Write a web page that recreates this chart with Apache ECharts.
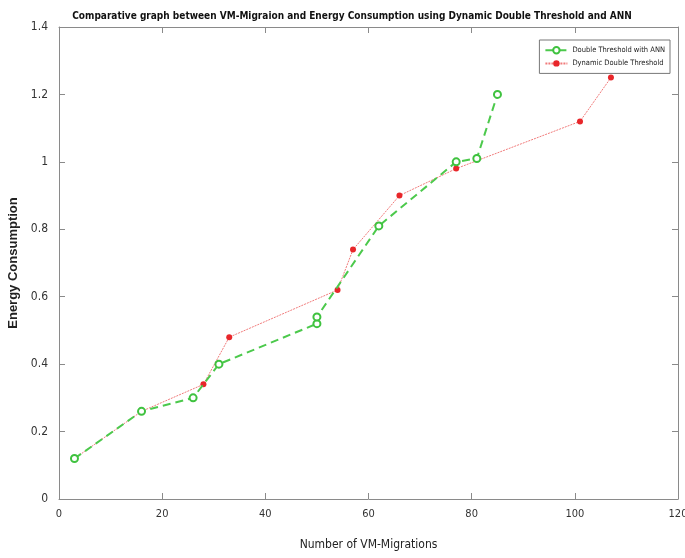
<!DOCTYPE html>
<html>
<head>
<meta charset="utf-8">
<script src="https://cdn.jsdelivr.net/npm/echarts@6/dist/echarts.min.js"></script>
<style>
  html, body { margin: 0; padding: 0; background: #fff; }
  #chart { width: 685px; height: 558px; }
</style>
</head>
<body>
<div id="chart"></div>
<script>
// data
var annX = [3, 16, 26, 31, 50, 50, 62, 77, 81, 85];
var annY = [0.12, 0.26, 0.30, 0.40, 0.52, 0.54, 0.81, 1.00, 1.01, 1.20];
var ddtX = [3, 16, 28, 33, 54, 57, 66, 77, 101, 107];
var ddtY = [0.12, 0.26, 0.34, 0.48, 0.62, 0.74, 0.90, 0.98, 1.12, 1.25];
var seriesNames = ['Double Threshold with ANN', 'Dynamic Double Threshold'];

function pairs(xs, ys) {
  return xs.map(function (x, i) { return [x, ys[i]]; });
}

var font = '"DejaVu Sans Condensed", "Liberation Sans", Arial, sans-serif';
var axisGray = '#8a8a8a';

var chart = echarts.init(document.getElementById('chart'));
chart.setOption({
  animation: false,
  title: {
    text: 'Comparative graph between VM-Migraion and Energy Consumption using Dynamic Double Threshold and ANN',
    left: 347,
    textAlign: 'center',
    top: 6,
    textStyle: { fontFamily: font, fontSize: 10, fontWeight: 'bold', color: '#111' }
  },
  legend: {
    data: seriesNames,
    orient: 'vertical',
    right: 15,
    top: 40,
    itemWidth: 22,
    itemHeight: 8,
    itemGap: 5,
    padding: [6, 5],
    borderColor: '#777',
    borderWidth: 1,
    textStyle: { fontFamily: font, fontSize: 7.5, color: '#222' }
  },
  grid: { left: 59, right: 7, top: 27, bottom: 59, outerBoundsMode: 'none' },
  xAxis: [{
    type: 'value', min: 0, max: 120, interval: 20,
    name: 'Number of VM-Migrations',
    nameLocation: 'middle', nameGap: 40,
    nameTextStyle: { fontFamily: font, fontSize: 12, color: '#222' },
    axisLine: { onZero: false, lineStyle: { color: axisGray } },
    axisTick: { inside: true, length: 6, lineStyle: { color: axisGray } },
    axisLabel: { fontFamily: font, fontSize: 11, color: '#333', margin: 10 },
    splitLine: { show: false }
  }, {
    type: 'value', min: 0, max: 120, interval: 20, position: 'top',
    axisLine: { show: true, onZero: false, lineStyle: { color: axisGray } },
    axisTick: { inside: true, length: 6, lineStyle: { color: axisGray } },
    axisLabel: { show: false },
    splitLine: { show: false }
  }],
  yAxis: [{
    type: 'value', min: 0, max: 1.4, interval: 0.2,
    name: 'Energy Consumption',
    nameLocation: 'middle', nameGap: 38,
    nameTextStyle: { fontFamily: '"Liberation Sans", Arial, sans-serif', fontSize: 13, fontWeight: 'bold', color: '#222' },
    axisLine: { show: true, onZero: false, lineStyle: { color: axisGray } },
    axisTick: { show: true, inside: true, length: 6, lineStyle: { color: axisGray } },
    axisLabel: { fontFamily: font, fontSize: 12, color: '#333', margin: 11 },
    splitLine: { show: false }
  }, {
    type: 'value', min: 0, max: 1.4, interval: 0.2, position: 'right',
    axisLine: { show: true, onZero: false, lineStyle: { color: axisGray } },
    axisTick: { show: true, inside: true, length: 6, lineStyle: { color: axisGray } },
    axisLabel: { show: false },
    splitLine: { show: false }
  }],
  series: [{
    name: seriesNames[0],
    type: 'line',
    data: pairs(annX, annY),
    symbol: 'emptyCircle',
    symbolSize: 7,
    itemStyle: { color: '#3fc23f', borderWidth: 1 },
    lineStyle: { color: '#4cc94c', width: 2, type: [8, 5] },
    z: 3
  }, {
    name: seriesNames[1],
    type: 'line',
    data: pairs(ddtX, ddtY),
    symbol: 'circle',
    symbolSize: 6,
    itemStyle: { color: '#e8262a' },
    lineStyle: { color: '#f07a7a', width: 1, type: [2, 1] },
    z: 2
  }]
});
</script>
</body>
</html>
